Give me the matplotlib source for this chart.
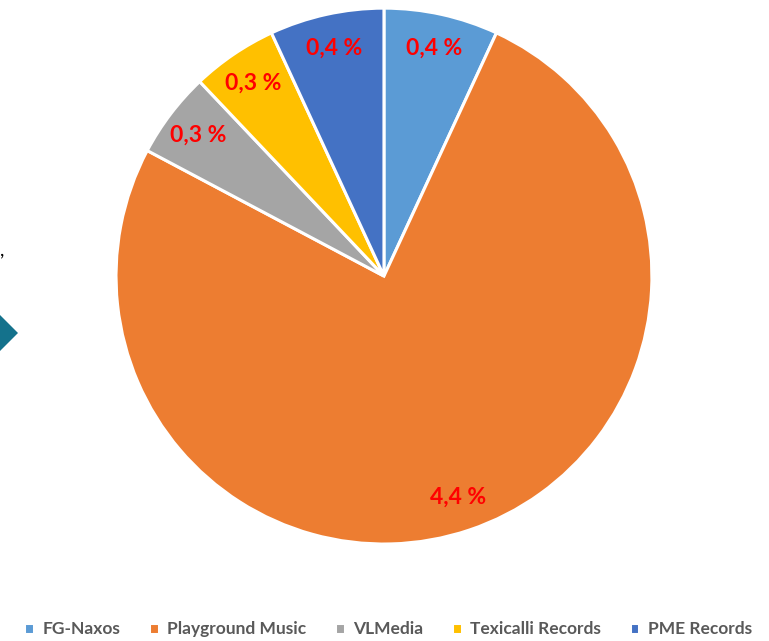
import matplotlib.pyplot as plt
from matplotlib.patches import Polygon

# data
labels = ["FG-Naxos", "Playground Music", "VLMedia", "Texicalli Records", "PME Records"]
values = [0.4, 4.4, 0.3, 0.3, 0.4]
colors = ["#5B9BD5", "#ED7D31", "#A5A5A5", "#FFC000", "#4472C4"]

plt.rcParams['font.family'] = ['Lato', 'DejaVu Sans']

fig = plt.figure(figsize=(7.69, 6.41), dpi=100)
ax = fig.add_axes([0.1508, 0.1513, 0.697, 0.836])

wedges, texts, autotexts = ax.pie(
    values, colors=colors, startangle=90, counterclock=False,
    autopct=lambda p: "", pctdistance=0.87,
    wedgeprops=dict(edgecolor="white", linewidth=2.2),
)
# value labels in the Excel style "0,4 %"
for t, v in zip(autotexts, values):
    t.set_text(f"{v:.1f} %".replace(".", ","))
    t.set_color("#FF0000")
    t.set_fontsize(16.5)
    t.set_fontweight("bold")
ax.set_xlim(-1, 1)
ax.set_ylim(-1, 1)
ax.set_aspect('equal')
ax.axis('off')

leg = fig.legend(wedges, labels, loc='center', ncol=5, bbox_to_anchor=(0.505, 0.018),
                 frameon=False, fontsize=12.5, handlelength=0.55, handleheight=0.55,
                 handletextpad=0.5, columnspacing=1.65)
for t in leg.get_texts():
    t.set_color("#595959")
    t.set_fontweight("bold")

# cropped decoration on the left edge
fig.patches.append(Polygon([(-18 / 769, 1 - 333 / 641), (0, 1 - 315 / 641),
                            (18 / 769, 1 - 333 / 641), (0, 1 - 351 / 641)],
                           closed=True, transform=fig.transFigure,
                           facecolor="#14728C", edgecolor="none"))
fig.text(0.0, 1 - 250 / 641, ",", fontsize=14, color="black", va="center", ha="left")

fig.savefig("out.png", dpi=100)
